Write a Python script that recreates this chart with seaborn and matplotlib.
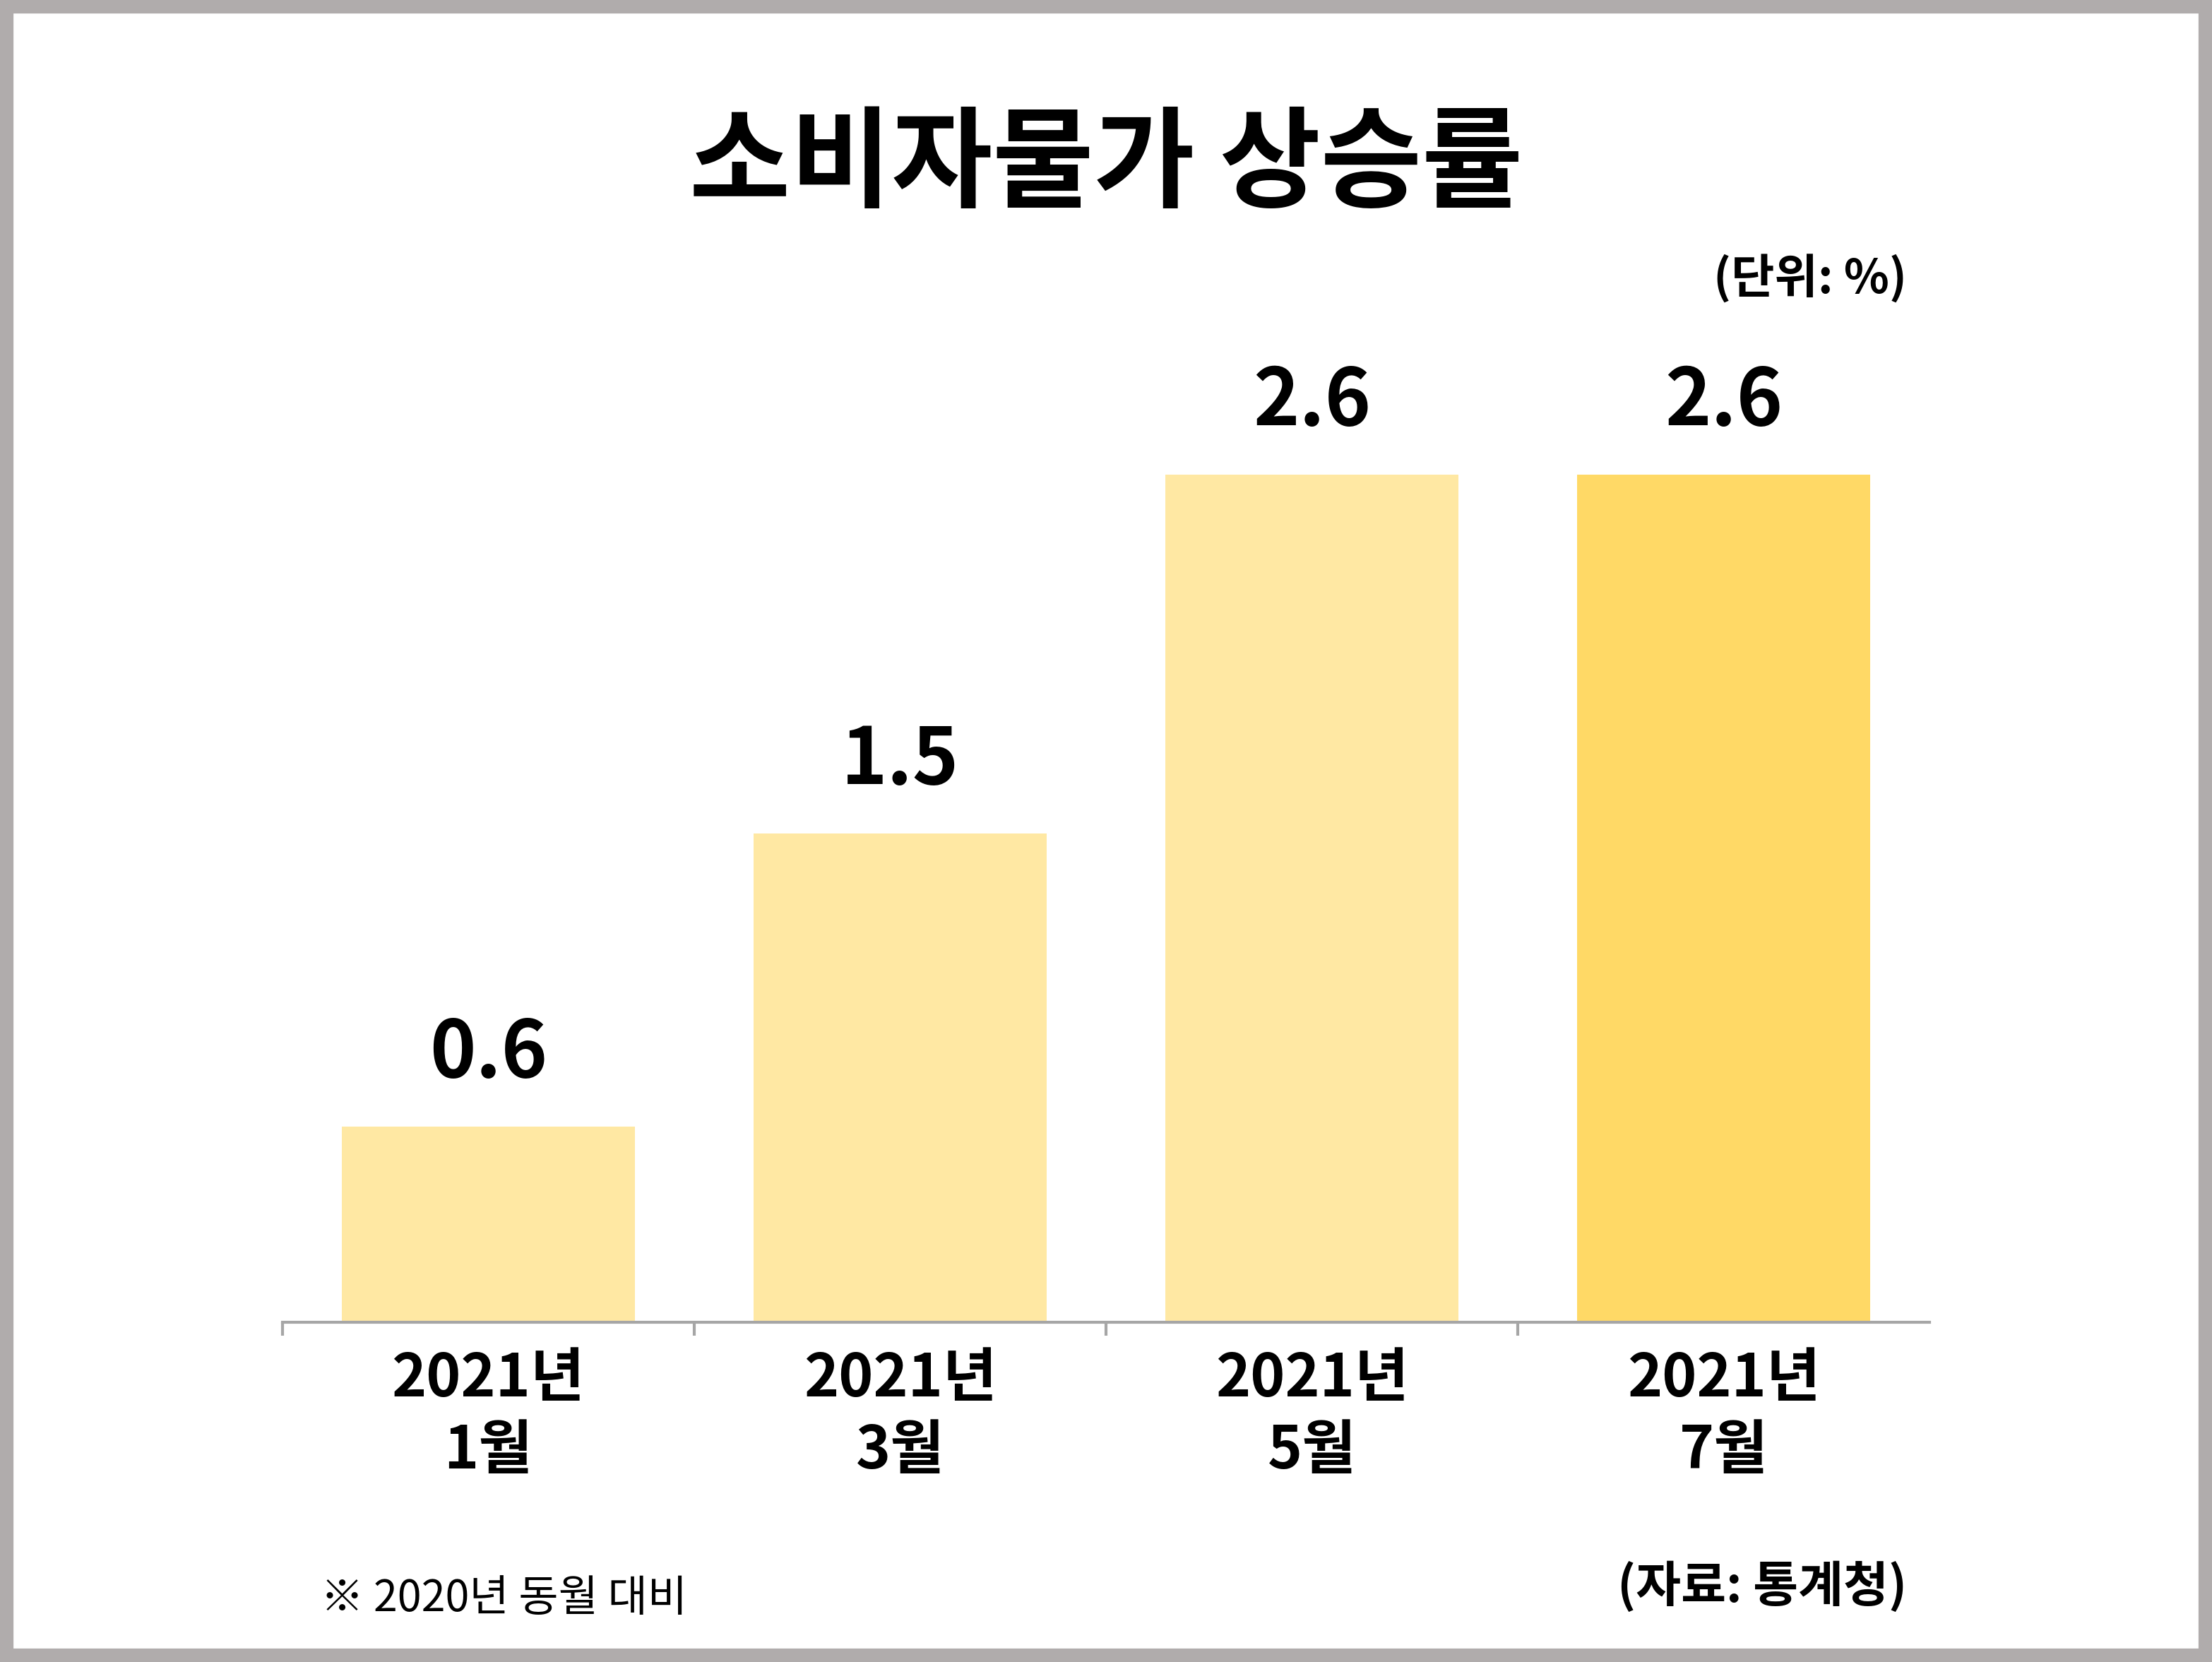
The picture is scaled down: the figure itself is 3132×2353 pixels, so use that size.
import matplotlib
matplotlib.use("Agg")
import matplotlib.pyplot as plt
from matplotlib.patches import Rectangle
import seaborn as sns
import pandas as pd

months = ["2021년\n1월", "2021년\n3월", "2021년\n5월", "2021년\n7월"]
rates = [0.6, 1.5, 2.6, 2.6]
bar_colors = ["#FFE8A3", "#FFE8A3", "#FFE8A3", "#FFD966"]

FONTS = ["Noto Sans CJK KR", "Noto Sans CJK JP", "Noto Sans CJK SC",
         "Noto Sans CJK TC", "DejaVu Sans"]
plt.rcParams["font.family"] = "sans-serif"
plt.rcParams["font.sans-serif"] = FONTS

df = pd.DataFrame({"month": months, "rate": rates})

fig = plt.figure(figsize=(15.66, 11.765), dpi=200)
ax = fig.add_axes([0.1276, 0.2046, 0.7448, 0.588])
sns.barplot(data=df, x="month", y="rate", hue="month", palette=bar_colors,
            width=0.712, legend=False, ax=ax, saturation=1)

ax.set_xlim(-0.5, 3.5)
ax.set_ylim(0, 3.0)
ax.set_xlabel("")
ax.set_ylabel("")
ax.set_yticks([])
for sp in ["top", "right", "left"]:
    ax.spines[sp].set_visible(False)
ax.spines["bottom"].set_color("#A6A6A6")
ax.spines["bottom"].set_linewidth(1.5)

ax.set_xticks(range(len(months)))
ax.set_xticklabels(months, fontsize=30, fontweight="bold", linespacing=1.25)
ax.tick_params(axis="x", length=0, pad=14)
ax.set_xticks([-0.5, 0.5, 1.5, 2.5], minor=True)
ax.tick_params(axis="x", which="minor", length=7, color="#A6A6A6", width=1.5)

for i, v in enumerate(rates):
    ax.text(i, v + 0.1, f"{v:.1f}", ha="center", va="bottom",
            fontsize=40, fontweight="bold")

fig.text(0.5, 0.9, "소비자물가 상승률", ha="center", va="center",
         fontsize=56, fontweight="bold")
fig.text(0.862, 0.832, "(단위: %)", ha="right", va="center",
         fontsize=24, fontweight="bold")
fig.text(0.145, 0.038, "※ 2020년 동월 대비", ha="left", va="center",
         fontsize=22)
fig.text(0.862, 0.045, "(자료: 통계청)", ha="right", va="center",
         fontsize=25, fontweight="bold")

fig.patches.append(Rectangle((0.0025, 0.0035), 0.995, 0.993,
                             transform=fig.transFigure, fill=False,
                             edgecolor="#B0ACAC", linewidth=8))

fig.savefig("out.png", dpi=200, facecolor="white")
